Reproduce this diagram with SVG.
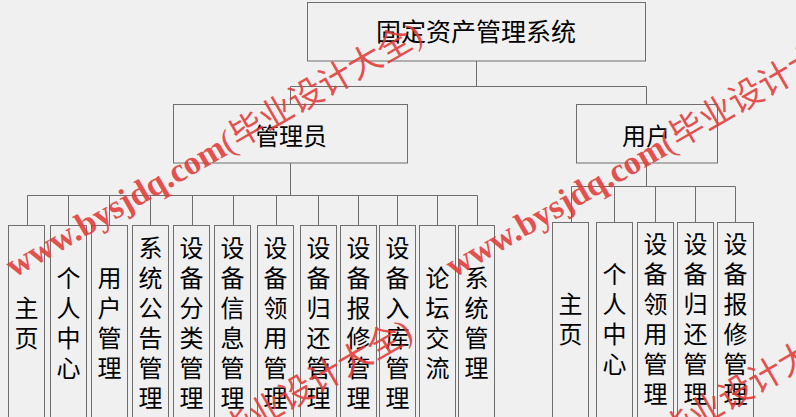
<svg xmlns="http://www.w3.org/2000/svg" width="796" height="417" viewBox="0 0 796 417">
<style>
.bg{fill:#f0f0f0}
.box{fill:#f0f0f0;stroke:#6e6e6e;stroke-width:1}
.ln{fill:none;stroke:#6e6e6e;stroke-width:1}
.t{font-family:"Noto Sans CJK SC","Noto Sans",sans-serif;font-size:24px;fill:#000;text-anchor:middle;dominant-baseline:central}
.wm{font-family:"Liberation Serif","Noto Sans CJK SC",serif;font-size:34px;font-weight:bold;fill:#e23a36;fill-opacity:0.88}
.wc{font-weight:normal}
</style>
<rect class="bg" x="0" y="0" width="796" height="417"/>
<g id="connectors">
<path class="ln" d="M476.5 61V86.5M290.5 86.5H646.5M290.5 86.5V104M646.5 86.5V104"/>
<path class="ln" d="M290.5 163V195.5M27.5 195.5H477.5M27.5 195.5V225M68.5 195.5V225M109.5 195.5V225M150.5 195.5V225M192.5 195.5V225M233.5 195.5V225M276.5 195.5V225M318.5 195.5V225M358.5 195.5V225M397.5 195.5V225M437.5 195.5V225M477.5 195.5V225"/>
<path class="ln" d="M646.5 163V186.5M571.5 186.5H735.5M571.5 186.5V222M614.5 186.5V222M655.5 186.5V222M695.5 186.5V222M735.5 186.5V222"/>
</g>
<g id="root"><rect class="box" x="307.5" y="2.5" width="338" height="58.5"/><text class="t" x="476" y="30" style="font-size:25px">固定资产管理系统</text></g>
<g id="admin"><rect class="box" x="173.5" y="104.5" width="234" height="58.5"/><text class="t" x="291" y="134">管理员</text></g>
<g id="user"><rect class="box" x="576.5" y="104.5" width="141" height="58.5"/><text class="t" x="646" y="134">用户</text></g>

<g id="a1"><rect class="box" x="8.5" y="225.5" width="36" height="200"/><text class="t"><tspan x="26.5" y="306">主</tspan><tspan x="26.5" y="336">页</tspan></text></g>
<g id="a2"><rect class="box" x="50.5" y="225.5" width="36" height="200"/><text class="t"><tspan x="68.5" y="276">个</tspan><tspan x="68.5" y="306">人</tspan><tspan x="68.5" y="336">中</tspan><tspan x="68.5" y="366">心</tspan></text></g>
<g id="a3"><rect class="box" x="91.5" y="225.5" width="36" height="200"/><text class="t"><tspan x="109.5" y="276">用</tspan><tspan x="109.5" y="306">户</tspan><tspan x="109.5" y="336">管</tspan><tspan x="109.5" y="366">理</tspan></text></g>
<g id="a4"><rect class="box" x="132.5" y="225.5" width="36" height="200"/><text class="t"><tspan x="150.5" y="246">系</tspan><tspan x="150.5" y="276">统</tspan><tspan x="150.5" y="306">公</tspan><tspan x="150.5" y="336">告</tspan><tspan x="150.5" y="366">管</tspan><tspan x="150.5" y="396">理</tspan></text></g>
<g id="a5"><rect class="box" x="173.5" y="225.5" width="36" height="200"/><text class="t"><tspan x="191.5" y="246">设</tspan><tspan x="191.5" y="276">备</tspan><tspan x="191.5" y="306">分</tspan><tspan x="191.5" y="336">类</tspan><tspan x="191.5" y="366">管</tspan><tspan x="191.5" y="396">理</tspan></text></g>
<g id="a6"><rect class="box" x="214.5" y="225.5" width="36" height="200"/><text class="t"><tspan x="232.5" y="246">设</tspan><tspan x="232.5" y="276">备</tspan><tspan x="232.5" y="306">信</tspan><tspan x="232.5" y="336">息</tspan><tspan x="232.5" y="366">管</tspan><tspan x="232.5" y="396">理</tspan></text></g>
<g id="a7"><rect class="box" x="257.5" y="225.5" width="36" height="200"/><text class="t"><tspan x="275.5" y="246">设</tspan><tspan x="275.5" y="276">备</tspan><tspan x="275.5" y="306">领</tspan><tspan x="275.5" y="336">用</tspan><tspan x="275.5" y="366">管</tspan><tspan x="275.5" y="396">理</tspan></text></g>
<g id="a8"><rect class="box" x="300.5" y="225.5" width="36" height="200"/><text class="t"><tspan x="318.5" y="246">设</tspan><tspan x="318.5" y="276">备</tspan><tspan x="318.5" y="306">归</tspan><tspan x="318.5" y="336">还</tspan><tspan x="318.5" y="366">管</tspan><tspan x="318.5" y="396">理</tspan></text></g>
<g id="a9"><rect class="box" x="340.5" y="225.5" width="36" height="200"/><text class="t"><tspan x="358.5" y="246">设</tspan><tspan x="358.5" y="276">备</tspan><tspan x="358.5" y="306">报</tspan><tspan x="358.5" y="336">修</tspan><tspan x="358.5" y="366">管</tspan><tspan x="358.5" y="396">理</tspan></text></g>
<g id="a10"><rect class="box" x="379.5" y="225.5" width="36" height="200"/><text class="t"><tspan x="397.5" y="246">设</tspan><tspan x="397.5" y="276">备</tspan><tspan x="397.5" y="306">入</tspan><tspan x="397.5" y="336">库</tspan><tspan x="397.5" y="366">管</tspan><tspan x="397.5" y="396">理</tspan></text></g>
<g id="a11"><rect class="box" x="419.5" y="225.5" width="36" height="200"/><text class="t"><tspan x="437.5" y="276">论</tspan><tspan x="437.5" y="306">坛</tspan><tspan x="437.5" y="336">交</tspan><tspan x="437.5" y="366">流</tspan></text></g>
<g id="a12"><rect class="box" x="458.5" y="225.5" width="36" height="200"/><text class="t"><tspan x="476.5" y="276">系</tspan><tspan x="476.5" y="306">统</tspan><tspan x="476.5" y="336">管</tspan><tspan x="476.5" y="366">理</tspan></text></g>

<g id="u1"><rect class="box" x="552.5" y="222.5" width="36" height="200"/><text class="t"><tspan x="570.5" y="302">主</tspan><tspan x="570.5" y="332">页</tspan></text></g>
<g id="u2"><rect class="box" x="596.5" y="222.5" width="36" height="200"/><text class="t"><tspan x="614.5" y="272">个</tspan><tspan x="614.5" y="302">人</tspan><tspan x="614.5" y="332">中</tspan><tspan x="614.5" y="362">心</tspan></text></g>
<g id="u3"><rect class="box" x="637.5" y="222.5" width="36" height="200"/><text class="t"><tspan x="655.5" y="242">设</tspan><tspan x="655.5" y="272">备</tspan><tspan x="655.5" y="302">领</tspan><tspan x="655.5" y="332">用</tspan><tspan x="655.5" y="362">管</tspan><tspan x="655.5" y="392">理</tspan></text></g>
<g id="u4"><rect class="box" x="677.5" y="222.5" width="36" height="200"/><text class="t"><tspan x="695.5" y="242">设</tspan><tspan x="695.5" y="272">备</tspan><tspan x="695.5" y="302">归</tspan><tspan x="695.5" y="332">还</tspan><tspan x="695.5" y="362">管</tspan><tspan x="695.5" y="392">理</tspan></text></g>
<g id="u5"><rect class="box" x="717.5" y="222.5" width="36" height="200"/><text class="t"><tspan x="735.5" y="242">设</tspan><tspan x="735.5" y="272">备</tspan><tspan x="735.5" y="302">报</tspan><tspan x="735.5" y="332">修</tspan><tspan x="735.5" y="362">管</tspan><tspan x="735.5" y="392">理</tspan></text></g>

<g id="watermark">
<text class="wm" x="14" y="278" transform="rotate(-30 14 278)">www.bysjdq.com<tspan class="wc">(毕业设计大全)</tspan></text>
<text class="wm" x="454" y="278" transform="rotate(-30 454 278)">www.bysjdq.com<tspan class="wc">(毕业设计大全)</tspan></text>
<text class="wm" x="4" y="575" transform="rotate(-30 4 575)">www.bysjdq.com<tspan class="wc">(毕业设计大全)</tspan></text>
<text class="wm" x="444" y="575" transform="rotate(-30 444 575)">www.bysjdq.com<tspan class="wc">(毕业设计大全)</tspan></text>
</g>
</svg>
